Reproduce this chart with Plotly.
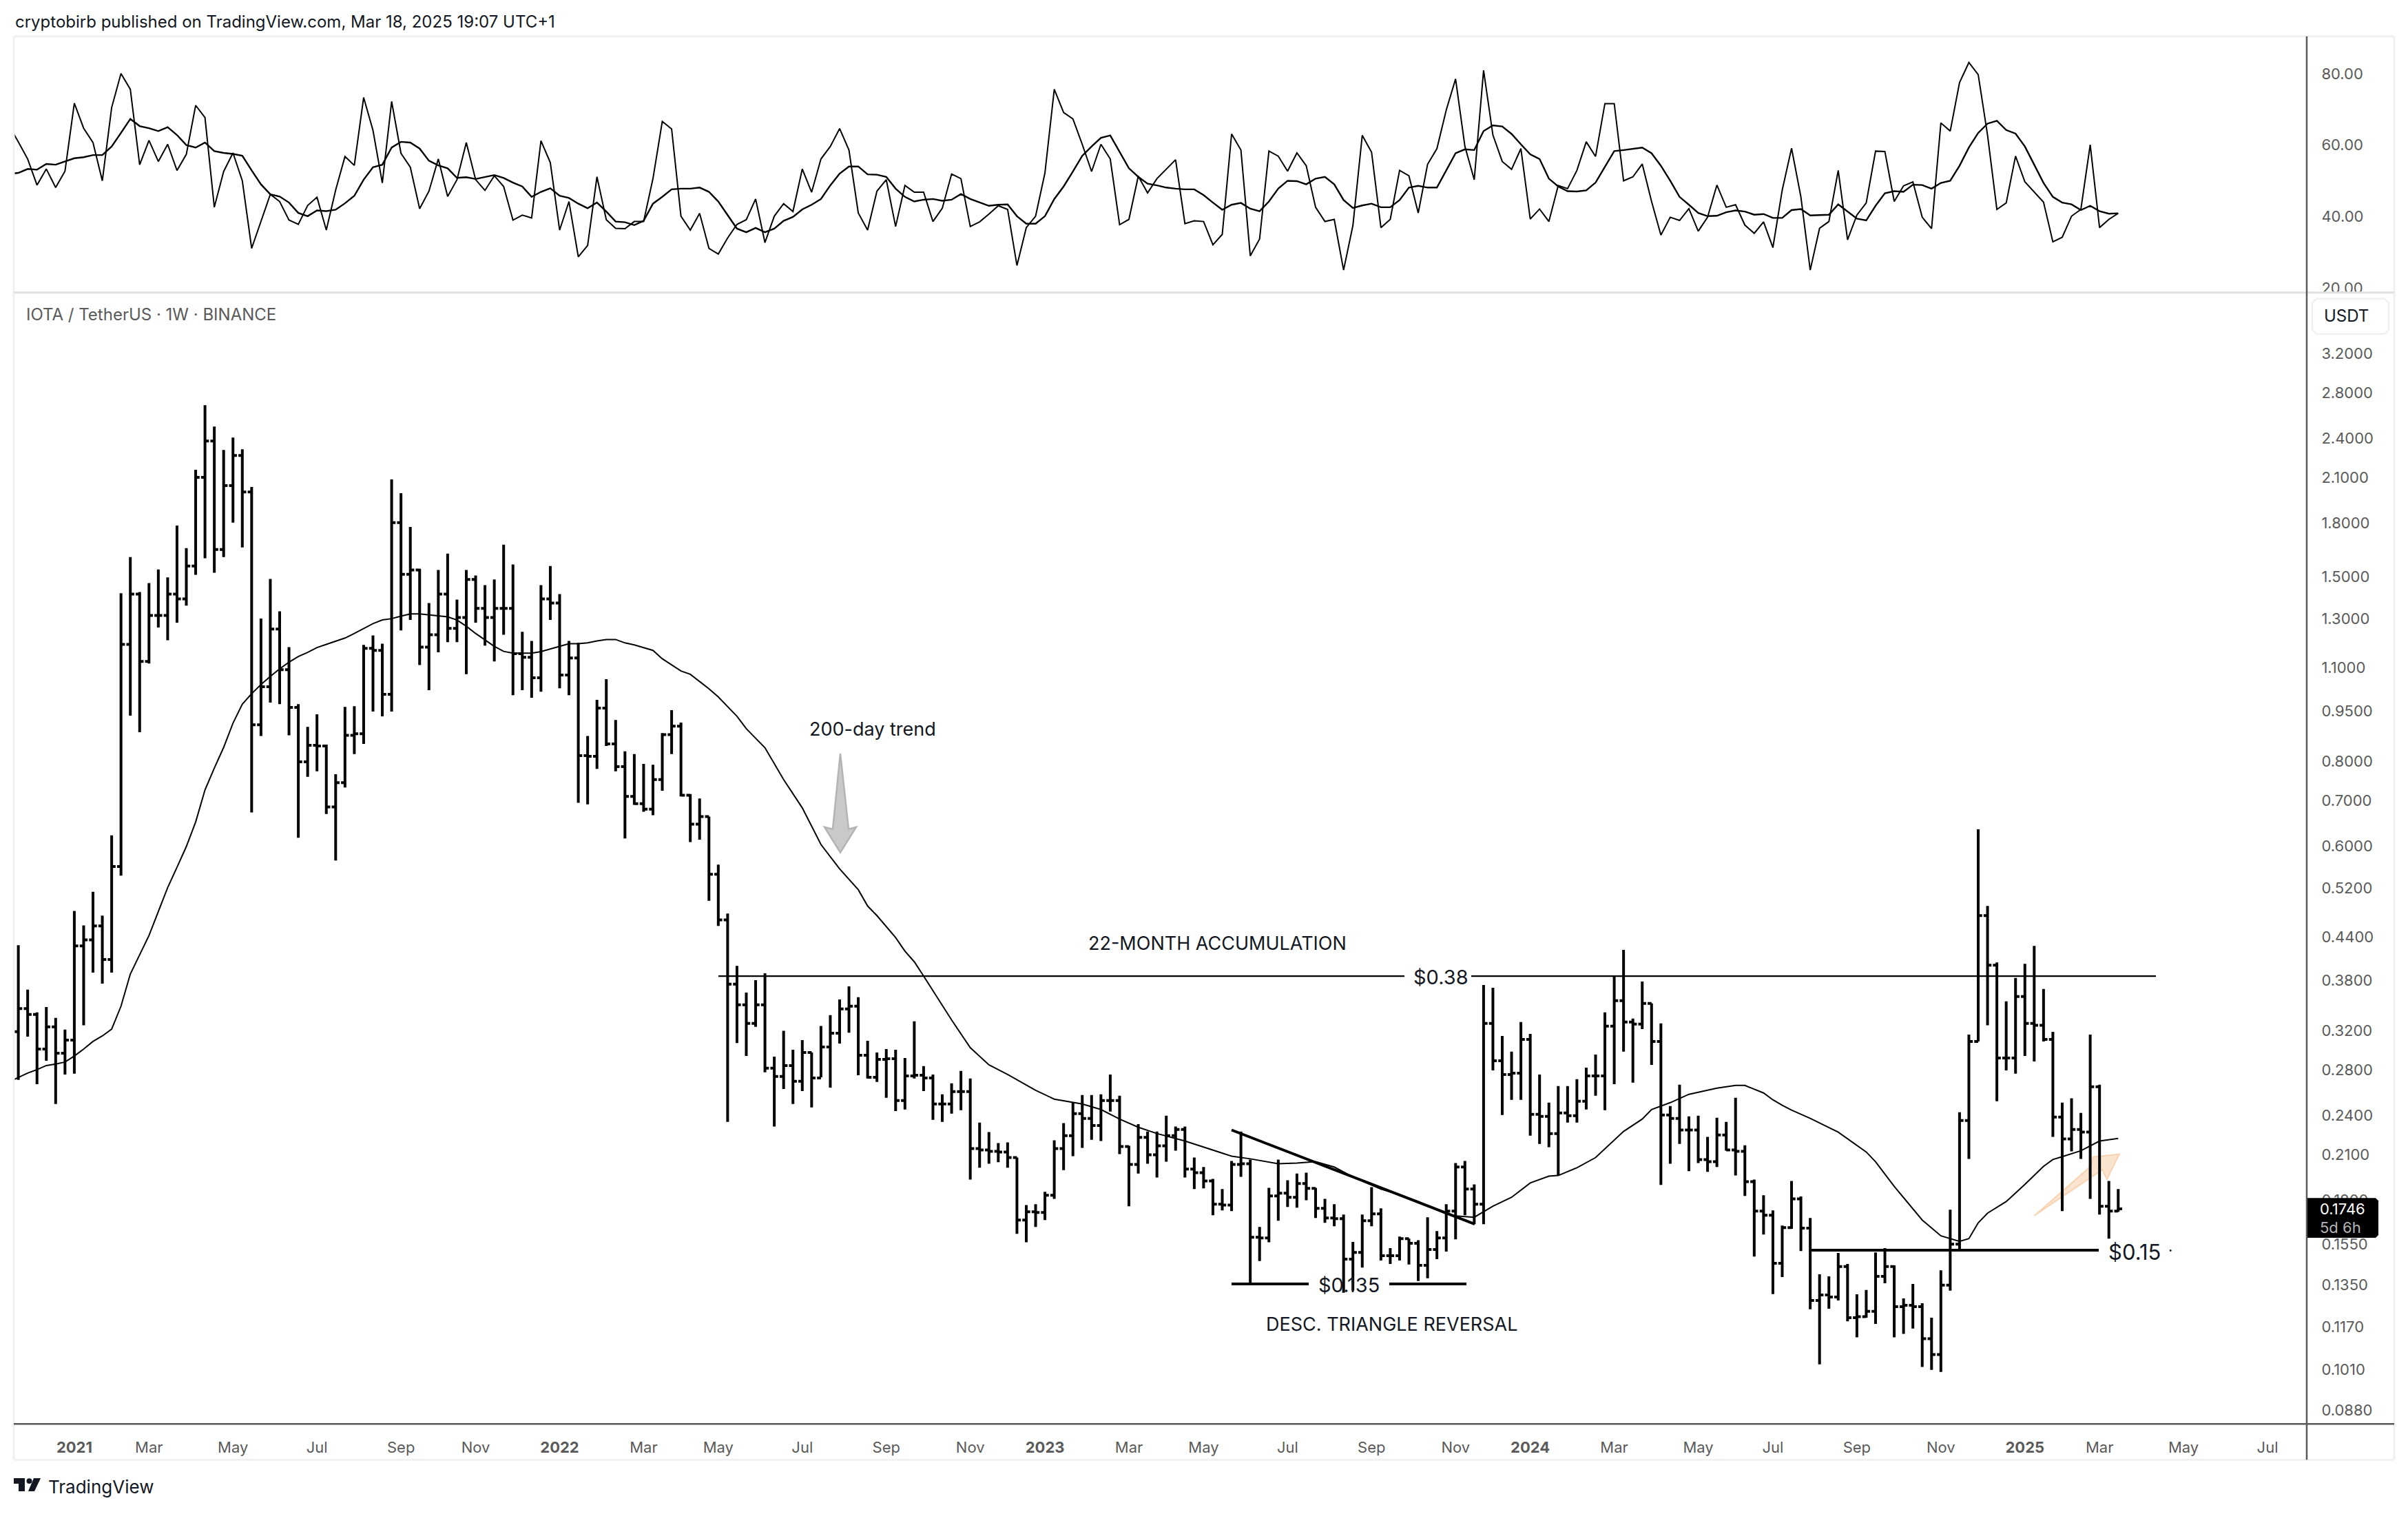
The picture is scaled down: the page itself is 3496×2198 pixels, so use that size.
import math
import pandas as pd
import plotly.graph_objs as go

# weekly bars, first entry is the week just off the left edge
WEEKS = pd.date_range('2020-11-16', periods=227, freq='7D')

HIGH = [.428,.368,.3407,.347,.3343,.3213,.481,.458,.5134,.4734,
        .622,1.417,1.603,1.423,1.467,1.537,1.496,1.784,1.652,2.157,
        2.686,2.498,2.307,2.406,2.313,2.034,1.30,1.488,1.333,1.18,
        .972,.8996,.939,.847,.766,.963,.965,1.189,1.228,1.194,
        2.087,1.992,1.776,1.54,1.371,1.534,1.622,1.387,1.534,1.505,
        1.457,1.485,1.672,1.563,1.243,1.205,1.457,1.555,1.413,1.205,
        1.197,.872,.986,1.058,.921,.828,.82,.793,.791,.881,
        .952,.913,.716,.705,.663,.563,.4767,.399,.3644,.38,
        .389,.293,.32,.30,.31,.2972,.3253,.3375,.356,.3722,
        .3586,.3092,.2972,.3007,.30,.2917,.3304,.2837,.2758,.2578,
        .2676,.2791,.272,.2342,.2267,.2184,.2189,.2079,.1769,.1774,
        .185,.2204,.2337,.2506,.2572,.2572,.2578,.2758,.2566,.2163,
        .233,.2272,.2272,.2397,.231,.231,.2079,.2013,.1934,.1868,
        .2055,.2272,.2065,.1642,.1876,.2065,.1925,.1969,.1975,.1876,
        .1807,.1774,.1713,.156,.1713,.188,.1749,.1528,.1589,.1578,
        .157,.1697,.1619,.1774,.204,.2055,.1898,.374,.3705,.3144,
        .298,.3297,.3166,.2758,.2506,.2651,.2651,.2714,.2823,.2951,
        .3407,.3855,.4213,.3335,.3784,.3512,.3282,.2477,.2663,.2392,
        .2397,.223,.2381,.2347,.2547,.2168,.1929,.1829,.1737,.165,
        .192,.1821,.1693,.1398,.1388,.1503,.1448,.1306,.1325,.1506,
        .1528,.1441,.1288,.1353,.1267,.1206,.1417,.1741,.2426,.3158,
        .635,.4892,.4038,.3536,.383,.4019,.4272,.3688,.3188,.2506,
        .2543,.242,.3158,.2663,.192,.1868]

LOW = [.2707,.3136,.2669,.289,.2494,.2758,.2765,.326,.39,.3757,
       .39,.5425,.9346,.8834,1.116,1.261,1.208,1.282,1.359,1.509,
       1.596,1.52,1.603,1.802,1.656,.6723,.872,.977,.972,.874,
       .617,.759,.7735,.669,.571,.732,.82,.849,.9475,.9325,
       .9475,1.249,1.294,1.11,1.019,1.159,1.2,1.2,1.076,1.282,
       1.186,1.124,1.231,1.002,1.019,.993,1.014,1.294,1.026,1.002,
       .695,.691,.78,.843,.7735,.6156,.69,.674,.666,.724,
       .82,.71,.608,.613,.498,.457,.2347,.307,.2937,.3243,
       .2778,.231,.2625,.2494,.2607,.2465,.2732,.2638,.3064,.318,
       .2751,.272,.2688,.2547,.2436,.2448,.272,.2607,.2364,.2347,
       .2414,.2443,.1929,.2008,.2036,.2046,.2008,.1604,.1559,.1642,
       .1681,.1807,.1992,.2089,.2148,.2209,.2199,.2431,.2104,.1762,
       .1969,.2036,.1943,.205,.2128,.1943,.1868,.1872,.1709,.1737,
       .1733,.1947,.1353,.1462,.1559,.1677,.1757,.1753,.1798,.1693,
       .1665,.1646,.1313,.1322,.143,.1646,.1465,.1448,.1465,.1445,
       .1366,.1379,.1472,.151,.1574,.1709,.1657,.1657,.2797,.2403,
       .253,.253,.224,.2178,.2153,.1956,.2342,.2342,.2448,.2566,
       .2443,.2669,.298,.2682,.3218,.285,.1894,.2036,.2178,.1985,
       .204,.198,.2013,.2128,.1956,.1825,.1485,.16,.1307,.1385,
       .1631,.1513,.1241,.1029,.1243,.1279,.1191,.1128,.1206,.1181,
       .1356,.1128,.1141,.1162,.102,.101,.1003,.1322,.152,.207,
       .3086,.326,.2518,.2797,.2765,.2937,.2883,.3086,.223,.1733,
       .2124,.207,.1807,.1713,.1578,.1729]

CLOSE = [.345,.3383,.3007,.3243,.2965,.31,.4272,.436,.457,.4077,
         .5594,1.191,1.413,1.124,1.314,1.314,1.413,1.39,1.555,2.102,
         2.379,1.645,2.044,2.265,2.0,.906,1.031,1.255,1.093,.961,
         .799,.845,.843,.685,.744,.874,.879,1.175,1.167,1.005,
         1.802,1.512,1.534,1.18,1.231,1.413,1.258,1.305,1.485,1.346,
         1.305,1.346,1.346,1.154,1.14,1.063,1.39,1.371,1.073,1.137,
         .816,.814,.959,.849,.786,.71,.693,.68,.752,.876,
         .902,.713,.646,.663,.545,.4667,.3749,.3495,.3282,.3495,
         .2817,.2739,.2843,.2695,.2972,.2726,.3028,.3173,.3446,.3479,
         .2944,.2732,.2903,.291,.2524,.2745,.2751,.2726,.2494,.2494,
         .2602,.2602,.2143,.2133,.2124,.2119,.2079,.1681,.1729,.1725,
         .1829,.2143,.224,.2414,.2375,.2319,.2524,.2524,.2158,.2031,
         .2226,.2099,.2163,.224,.2288,.1999,.1975,.192,.1774,.1769,
         .2031,.2036,.1585,.1582,.1825,.1842,.1816,.1903,.1872,.1749,
         .1693,.1689,.1472,.1506,.1677,.1717,.1489,.1489,.1578,.1553,
         .1441,.1521,.1582,.1733,.2013,.1868,.1774,.3282,.289,.2758,
         .2771,.3107,.2409,.2392,.2256,.242,.2397,.2518,.2745,.2745,
         .3251,.3545,.3297,.3274,.3512,.3086,.2403,.2375,.2283,.2283,
         .2065,.205,.2245,.2133,.2124,.1916,.1733,.1709,.1451,.1638,
         .1807,.1635,.1279,.1303,.1294,.1435,.1206,.121,.1232,.1388,
         .1435,.1252,.1258,.1252,.1123,.1064,.1347,.1549,.2358,.3086,
         .4734,.4,.2917,.2917,.3595,.3282,.326,.3107,.2386,.2215,
         .2288,.2267,.2645,.1762,.1733,.1746]

OPEN = [.319,.345,.3383,.3007,.3243,.2965,.31,.4272,.436,.457,
        .4077,.5594,1.191,1.413,1.124,1.314,1.314,1.413,1.39,1.555,
        2.102,2.379,1.645,2.044,2.265,2.0,.906,1.031,1.255,1.093,
        .961,.799,.845,.843,.685,.744,.874,.879,1.175,1.167,
        1.005,1.802,1.512,1.534,1.18,1.231,1.413,1.258,1.305,1.485,
        1.346,1.305,1.346,1.346,1.154,1.14,1.063,1.39,1.371,1.073,
        1.137,.816,.814,.959,.849,.786,.71,.693,.68,.752,
        .876,.902,.713,.646,.663,.545,.4667,.3749,.3495,.3282,
        .3495,.2817,.2739,.2843,.2695,.2972,.2726,.3028,.3173,.3446,
        .3479,.2944,.2732,.2903,.291,.2524,.2745,.2751,.2726,.2494,
        .2494,.2602,.2602,.2143,.2133,.2124,.2119,.2079,.1681,.1729,
        .1725,.1829,.2143,.224,.2414,.2375,.2319,.2524,.2524,.2158,
        .2031,.2226,.2099,.2163,.224,.2288,.1999,.1975,.192,.1774,
        .1769,.2031,.2036,.1585,.1582,.1825,.1842,.1816,.1903,.1872,
        .1749,.1693,.1689,.1472,.1506,.1677,.1717,.1489,.1489,.1578,
        .1553,.1441,.1521,.1582,.1733,.2013,.1868,.1774,.3282,.289,
        .2758,.2771,.3107,.2409,.2392,.2256,.242,.2397,.2518,.2745,
        .2745,.3251,.3545,.3297,.3274,.3512,.3086,.2403,.2375,.2283,
        .2283,.2065,.205,.2245,.2133,.2124,.1916,.1733,.1709,.1451,
        .1638,.1807,.1635,.1279,.1303,.1294,.1435,.1206,.121,.1232,
        .1388,.1435,.1252,.1258,.1252,.1123,.1064,.1347,.1549,.2358,
        .3086,.4734,.4,.2917,.2917,.3595,.3282,.326,.3107,.2386,
        .2215,.2288,.2267,.2645,.1762,.1733]

# 200-day trend, read at its visible kinks (position in WEEKS, price)
MA_POS = [0,1,2,3,4,5,6,7,8,9,10,11,12,13,14,15,16,17,18,19,20,21,22,23,24,25,26,27,28,29,
          30,31,32,33,34,35,36,37,38,39,40,41,42,43,44,45,47,48,49,50,51,52,53,54,55,56,57,58,59,60,
          61,62,63,64,65,66,67,68,69,70,71,72,73,75,76,78,79,81,83,85,87,89,91,92,93,95,96,97,98,100,
          101,103,105,107,110,112,115,117,119,121,123,126,128,131,133,136,138,140,142,144,147,149,151,154,155,157,159,161,163,165,
          166,168,170,171,173,175,176,178,180,183,185,186,188,189,190,191,193,196,199,200,202,205,207,209,210,211,212,214,216,218,
          219,220,222,224,225,226]
MA_VALUE = [.2689,.2732,.2771,.2804,.2843,.2857,.2877,.2937,.3007,.3086,.3144,.3218,.3479,.3882,.4145,.4424,.4801,.5207,.558,.5988,
            .651,.726,.782,.839,.911,.972,1.007,1.039,1.068,1.096,
            1.121,1.143,1.159,1.178,1.191,1.203,1.217,1.236,1.258,1.278,
            1.294,1.30,1.311,1.321,1.321,1.317,1.308,1.294,1.267,1.236,
            1.208,1.183,1.163,1.156,1.156,1.156,1.162,1.172,1.183,1.194,
            1.194,1.197,1.205,1.211,1.211,1.197,1.189,1.178,1.167,1.134,
            1.11,1.088,1.076,1.024,.996,.9325,.894,.838,.752,.683,
            .603,.555,.517,.4892,.4734,.4394,.4195,.4047,.3855,.3487,
            .332,.3021,.285,.2758,.2614,.2536,.2494,.2448,.237,.2305,
            .2256,.2199,.2153,.2089,.207,.2036,.204,.205,.2013,.1947,
            .1868,.1833,.179,.1717,.1705,.1697,.1762,.1816,.1907,.1952,
            .1956,.2008,.2079,.2143,.2272,.237,.2448,.2506,.2578,.2632,
            .2657,.2657,.259,.253,.2483,.2443,.2375,.2267,.2119,.205,
            .1885,.1681,.1593,.1563,.1578,.1665,.1721,.179,.1898,.2018,
            .2065,.2085,.2128,.2199,.2209,.2219]

RSI = [65.4,60.9,56.1,48.8,53.3,48.1,52.7,71.7,64.7,60.7,50.0,
       70.5,80.0,75.6,54.5,61.3,55.4,60.2,52.9,57.4,71.1,
       67.7,42.6,52.6,57.8,50.0,31.1,38.8,46.2,44.2,39.0,
       37.8,43.1,45.4,36.2,47.4,56.8,54.3,73.3,64.1,49.4,
       72.2,57.7,53.8,42.2,47.1,56.1,45.6,50.3,60.7,50.3,
       47.3,51.4,48.4,39.0,40.4,39.6,61.2,55.1,36.2,44.2,
       28.7,31.9,51.1,39.1,36.7,36.6,38.6,38.6,50.6,66.6,
       64.5,40.1,36.2,40.9,31.1,29.5,34.0,37.8,39.1,44.9,
       32.7,40.1,43.6,41.4,53.3,46.8,56.1,59.6,64.6,58.6,
       41.0,36.2,47.1,50.3,37.2,48.7,46.8,46.8,38.6,42.3,
       51.9,50.6,37.2,38.5,40.7,43.0,42.0,26.3,36.9,40.1,
       52.2,75.6,69.1,67.3,60.2,52.6,60.2,56.1,37.7,39.2,
       51.3,46.6,50.6,53.2,55.9,38.0,38.8,38.6,32.1,35.0,
       63.1,58.6,29.0,33.7,58.3,56.9,52.7,57.8,54.2,42.6,
       38.6,39.2,25.0,37.5,62.7,58.0,36.9,39.2,52.9,51.4,
       41.0,54.6,59.0,69.8,78.5,59.6,50.3,80.9,62.8,55.4,
       53.2,59.0,39.3,42.1,38.6,48.7,47.8,52.9,60.9,56.8,
       71.6,71.6,50.0,51.1,54.7,44.2,34.8,39.8,38.9,42.2,
       35.9,39.8,48.8,42.6,43.3,37.6,35.3,38.5,31.3,47.4,
       59.1,45.5,25.0,36.7,38.6,52.9,33.5,40.4,43.8,58.3,
       58.2,44.2,48.6,49.7,39.8,36.6,66.2,63.9,77.5,83.1,
       79.7,62.8,42.0,43.8,56.9,49.7,46.8,44.0,32.9,34.2,
       40.1,42.0,60.1,36.9,39.2,40.9]

RSI_MA = [51.9,52.2,53.3,53.1,54.7,54.5,55.4,56.3,56.6,57.2,57.2,
          59.6,63.4,67.3,65.3,64.7,63.9,65.0,62.8,60.0,59.3,
          60.7,58.3,57.8,57.5,57.0,52.9,49.0,46.2,45.6,43.9,
          41.0,40.1,41.7,41.5,41.9,43.7,45.8,50.3,53.8,54.5,
          59.3,60.9,60.7,59.0,55.6,54.3,53.5,50.8,51.0,50.5,
          51.0,51.6,50.8,49.5,48.4,45.5,46.9,47.9,45.8,45.2,
          43.6,42.3,43.9,41.4,38.6,38.4,37.6,38.8,43.6,45.5,
          47.6,47.8,47.8,48.1,46.9,44.2,40.4,36.6,35.6,36.8,
          35.6,36.6,38.8,39.9,42.0,43.3,44.9,48.7,52.0,54.0,
          54.0,51.8,51.7,51.1,47.8,45.5,44.2,44.7,44.9,44.4,
          44.7,46.3,44.9,43.9,43.0,43.3,43.4,40.1,38.0,38.0,
          40.1,44.9,48.4,52.6,57.0,59.6,62.0,62.7,58.0,53.5,
          51.1,49.2,48.7,48.1,47.8,47.6,47.6,46.0,43.9,41.9,
          43.3,43.8,42.2,41.5,44.2,47.8,50.0,49.9,49.0,50.6,
          51.1,49.0,44.6,42.4,43.1,43.6,42.6,42.6,44.6,48.1,
          48.6,48.1,48.1,52.9,57.7,58.8,58.6,63.9,65.5,65.2,
          63.1,60.2,57.4,56.1,50.6,48.4,47.1,47.0,47.3,49.5,
          53.8,58.3,58.6,59.0,59.3,57.7,54.2,50.0,45.5,43.3,
          41.0,40.1,40.2,41.2,41.7,41.4,40.5,40.7,39.6,39.6,
          41.8,42.1,40.3,40.4,40.5,43.4,41.4,39.4,38.9,43.0,
          46.5,47.1,46.9,48.9,48.8,47.8,49.4,50.0,54.2,59.3,
          63.4,66.0,66.8,64.2,63.2,59.6,54.5,49.4,45.5,43.9,
          43.4,41.8,43.0,41.5,40.8,40.9]

PRICE_TICKS = [3.2,2.8,2.4,2.1,1.8,1.5,1.3,1.1,.95,.8,.7,.6,.52,.44,.38,.32,.28,.24,.21,.18,.155,.135,.117,.101,.088]
RSI_TICKS = [20,40,60,80]
TIME_TICKS = ['2021-01-04','2021-03-01','2021-05-03','2021-07-05','2021-09-06','2021-11-01',
              '2022-01-03','2022-03-07','2022-05-02','2022-07-04','2022-09-05','2022-11-07',
              '2023-01-02','2023-03-06','2023-05-01','2023-07-03','2023-09-04','2023-11-06',
              '2024-01-01','2024-03-04','2024-05-06','2024-07-01','2024-09-02','2024-11-04',
              '2025-01-06','2025-03-03','2025-05-05','2025-07-07']
TIME_LABELS = ['<b>2021</b>','Mar','May','Jul','Sep','Nov',
               '<b>2022</b>','Mar','May','Jul','Sep','Nov',
               '<b>2023</b>','Mar','May','Jul','Sep','Nov',
               '<b>2024</b>','Mar','May','Jul','Sep','Nov',
               '<b>2025</b>','Mar','May','Jul']

W, H = 3496, 2198
FONT = 'Inter'
GREY = '#5a5a5a'


def fx(px):
    return px / W


def fy(py):
    return 1 - py / H


def rule(x0, y0, x1, y1, color='black', width=2, layer='above'):
    return dict(type='line', xref='paper', yref='paper', x0=fx(x0), y0=fy(y0), x1=fx(x1), y1=fy(y1),
                line=dict(color=color, width=width), layer=layer)


def poly(points, fill, edge, width=2, layer='above'):
    path = 'M ' + ' L '.join('%.5f,%.5f' % (fx(a), fy(b)) for a, b in points) + ' Z'
    return dict(type='path', xref='paper', yref='paper', path=path, fillcolor=fill,
                line=dict(color=edge, width=width), layer=layer)


def note(text, x, y, size=27, color='#131722', anchor='left'):
    return dict(text=text, xref='paper', yref='paper', x=fx(x), y=fy(y), xanchor=anchor, yanchor='middle',
                showarrow=False, font=dict(family=FONT, size=size, color=color))


fig = go.Figure()
fig.add_trace(go.Ohlc(x=WEEKS[1:], open=OPEN, high=HIGH, low=LOW, close=CLOSE, tickwidth=0.42,
                      increasing=dict(line=dict(color='black', width=4)),
                      decreasing=dict(line=dict(color='black', width=4)), hoverinfo='skip'))
fig.add_trace(go.Scatter(x=[WEEKS[i] for i in MA_POS], y=MA_VALUE, mode='lines',
                         line=dict(color='black', width=2), hoverinfo='skip'))
fig.add_trace(go.Scatter(x=WEEKS, y=RSI, yaxis='y2', mode='lines',
                         line=dict(color='black', width=2), hoverinfo='skip'))
fig.add_trace(go.Scatter(x=WEEKS, y=RSI_MA, yaxis='y2', mode='lines',
                         line=dict(color='black', width=2.4), hoverinfo='skip'))

shapes = [
    # frame
    rule(20, 53, 3476, 53, '#f1f1f1', 3),
    rule(20, 53, 20, 2125, '#f1f1f1', 3),
    rule(3476, 53, 3476, 2125, '#f1f1f1', 3),
    rule(20, 2125, 3476, 2125, '#f1f1f1', 3),
    rule(20, 426, 3476, 426, '#e2e2e2', 3),
    rule(3349, 53, 3349, 2125, GREY, 2.5),
    rule(20, 2073, 3476, 2073, GREY, 2.5),
    # drawings
    rule(1043, 1421, 2039, 1421, 'black', 2.4),
    rule(2136, 1421, 3130, 1421, 'black', 2.4),
    rule(1788, 1645, 2141, 1782, 'black', 4),
    rule(1788, 1869, 1900, 1869, 'black', 4),
    rule(2017, 1869, 2129, 1869, 'black', 4),
    rule(2628, 1820, 3047, 1820, 'black', 4),
    poly([(1220, 1097), (1232, 1207), (1243, 1204), (1220, 1241), (1197, 1204), (1209, 1207)],
         '#c9c9c9', '#b4b4b4', 2.5),
    poly([(2953, 1770), (3035, 1698), (3039, 1684), (3077, 1680), (3059, 1717), (3052, 1703)],
         'rgba(244,190,140,0.42)', 'rgba(244,190,140,0.55)', 2, 'below'),
    # price label and currency box
    poly([(3350, 1744), (3449, 1744), (3453, 1748), (3453, 1798), (3449, 1802), (3350, 1802)], 'black', 'black', 0),
    poly([(3363, 435), (3462, 435), (3468, 441), (3468, 480), (3462, 486), (3363, 486), (3357, 480), (3357, 441)],
         'white', '#eeeeee', 2),
    # logo
    poly([(20, 2152), (36, 2152), (36, 2171), (27, 2171), (27, 2160), (20, 2160)], '#131722', '#131722', 0),
    poly([(49, 2152), (59, 2152), (50, 2171), (41, 2171)], '#131722', '#131722', 0),
    dict(type='circle', xref='paper', yref='paper', x0=fx(38.5), y0=fy(2152), x1=fx(46.5), y1=fy(2160),
         fillcolor='#131722', line=dict(width=0)),
]

annotations = [
    note('cryptobirb published on TradingView.com, Mar 18, 2025 19:07 UTC+1', 20, 32, 24),
    note('IOTA / TetherUS · 1W · BINANCE', 36, 458, 24, GREY),
    note('USDT', 3406, 460, 24, anchor='center'),
    note('200-day trend', 1173, 1061, 27),
    note('22-MONTH ACCUMULATION', 1578, 1373, 27),
    note('$0.38', 2050, 1422, 29),
    note('$0.135', 1912, 1871, 29),
    note('DESC. TRIANGLE REVERSAL', 1836, 1928, 27),
    note('$0.15', 3059, 1822, 31),
    note('·', 3146, 1820, 22),
    note('0.1746', 3366, 1760, 22, 'white'),
    note('5d 6h', 3366, 1787, 22, '#b5b5b5'),
    note('TradingView', 68, 2164, 26),
]

fig.update_layout(
    width=W, height=H, margin=dict(l=0, r=0, t=0, b=0),
    paper_bgcolor='white', plot_bgcolor='white', showlegend=False, hovermode=False,
    font=dict(family=FONT, size=22, color=GREY),
    shapes=shapes, annotations=annotations,
    xaxis=dict(domain=[fx(20), fx(3349)], anchor='y', type='date', rangeslider=dict(visible=False),
               range=['2020-11-19 14:00', '2025-08-05 10:00'], tickvals=TIME_TICKS, ticktext=TIME_LABELS,
               showgrid=False, zeroline=False, ticks='outside', ticklen=14, tickcolor='rgba(0,0,0,0)',
               tickfont=dict(family=FONT, size=22, color=GREY)),
    yaxis=dict(domain=[fy(2073), fy(426)], type='log', side='right', anchor='x',
               range=[math.log10(.0840), math.log10(3.94)], tickvals=PRICE_TICKS,
               ticktext=['%.4f' % v for v in PRICE_TICKS], showgrid=False, zeroline=False,
               ticks='outside', ticklen=16, tickcolor='rgba(0,0,0,0)',
               tickfont=dict(family=FONT, size=22, color=GREY)),
    yaxis2=dict(domain=[fy(426), fy(53)], side='right', anchor='x', range=[18.7, 90.4],
                tickvals=RSI_TICKS, ticktext=['%.2f' % v for v in RSI_TICKS], showgrid=False, zeroline=False,
                ticks='outside', ticklen=16, tickcolor='rgba(0,0,0,0)',
                tickfont=dict(family=FONT, size=22, color=GREY)),
)

# the page body has default margins and a few px of extra height, drop both
page_fix = ("document.body.style.margin='0';document.body.style.height='2198px';"
            "document.body.style.overflow='hidden';document.documentElement.style.overflow='hidden';")
fig.write_html("out.html", post_script=page_fix, config=dict(displayModeBar=False))
